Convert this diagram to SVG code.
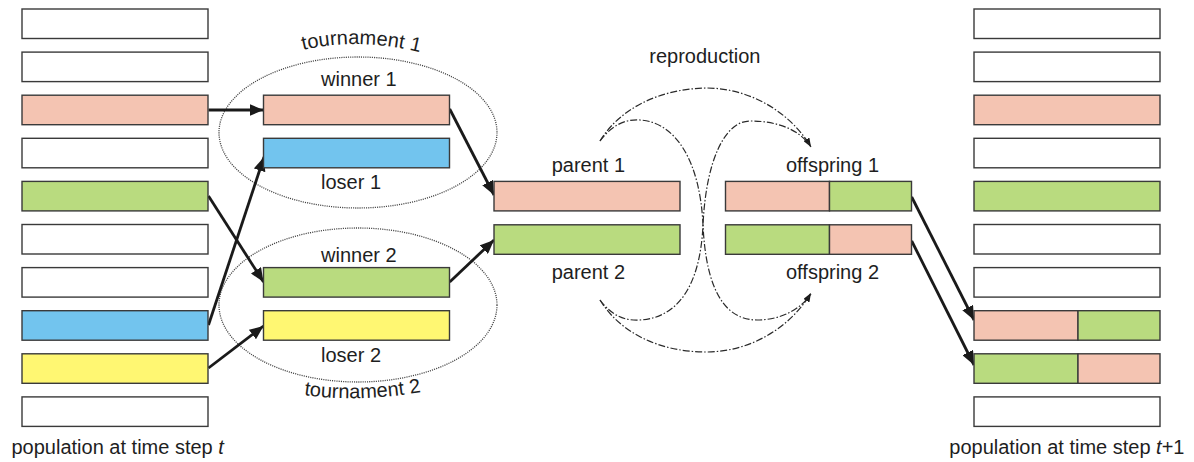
<svg xmlns="http://www.w3.org/2000/svg" width="1194" height="462" viewBox="0 0 1194 462">
  <style>
    .box { stroke: #3a3a3a; stroke-width: 1.4; }
    .w { fill: #ffffff; }
    .pk { fill: #f4c4b2; }
    .gr { fill: #b9db7f; }
    .bl { fill: #72c4ee; }
    .yl { fill: #fff772; }
    text { font-family: "Liberation Sans", Arial, sans-serif; font-size: 20px; fill: #1e1e1e; }
    .arrow { stroke: #1a1a1a; stroke-width: 2.8; fill: none; marker-end: url(#head); }
    .repro { stroke: #2a2a2a; stroke-width: 1.2; fill: none; stroke-dasharray: 7 2 1.5 2; }
    .tour { fill: none; stroke: #444; stroke-width: 1.3; stroke-dasharray: 1.1 1.1; }
  </style>
  <defs>
    <marker id="head" viewBox="0 0 14 12" refX="14" refY="6" markerWidth="14" markerHeight="12" markerUnits="userSpaceOnUse" orient="auto">
      <path d="M0,0 L14,6 L0,12 Z" fill="#1a1a1a"/>
    </marker>
    <marker id="small" viewBox="0 0 9 7" refX="9" refY="3.5" markerWidth="9" markerHeight="7" markerUnits="userSpaceOnUse" orient="auto">
      <path d="M0,0 L9,3.5 L0,7 Z" fill="#1a1a1a"/>
    </marker>
    <path id="arcTop" d="M303,50 Q362,36 430,55"/>
    <path id="arcBot" d="M304,395 Q360,403 428,391"/>
  </defs>

  <!-- tournament ellipses -->
  <g id="tournament1">
    <ellipse class="tour" cx="358" cy="132.5" rx="139" ry="75.5"/>
    <text><textPath href="#arcTop">tournament 1</textPath></text>
  </g>
  <g id="tournament2">
    <ellipse class="tour" cx="358" cy="305" rx="139" ry="77"/>
    <text><textPath href="#arcBot">tournament 2</textPath></text>
  </g>

  <!-- connectors -->
  <g id="connectors">
    <line class="arrow" x1="208.5" y1="110" x2="263.5" y2="110"/>
    <line class="arrow" x1="208.5" y1="196" x2="263.5" y2="282"/>
    <line class="arrow" x1="208.5" y1="325" x2="264" y2="157"/>
    <line class="arrow" x1="208.5" y1="368" x2="263.5" y2="326"/>
    <line class="arrow" x1="449.7" y1="109" x2="494" y2="195"/>
    <line class="arrow" x1="449.7" y1="282" x2="494" y2="240"/>
    <line class="arrow" x1="911.7" y1="197" x2="974" y2="320"/>
    <line class="arrow" x1="911.7" y1="241" x2="974" y2="365"/>

    <!-- reproduction: crossover paths -->
    <path class="repro" marker-end="url(#small)" d="M600,141 C620,108 660,89 706,88 C750,88 790,112 811,147"/>
    <path class="repro" marker-end="url(#small)" d="M600,300 C620,333 660,352 706,352 C750,352 790,328 811,293"/>
    <path class="repro" d="M600,141 C612,125 625,119 640,120 C675,122 700,160 703,225 C706,290 725,320 757,320 C780,320 800,310 811,294"/>
    <path class="repro" d="M600,300 C612,316 625,321 640,320 C675,318 700,290 703,225 C706,160 725,121 750,121 C778,121 800,130 811,147"/>
  </g>

  <!-- population at time step t -->
  <g id="population-t">
    <rect class="box w" x="22" y="9" width="186" height="29.5"/>
    <rect class="box w" x="22" y="52.1" width="186" height="29.5"/>
    <rect class="box pk" x="22" y="95.2" width="186" height="29.5"/>
    <rect class="box w" x="22" y="138.3" width="186" height="29.5"/>
    <rect class="box gr" x="22" y="181.4" width="186" height="29.5"/>
    <rect class="box w" x="22" y="224.5" width="186" height="29.5"/>
    <rect class="box w" x="22" y="267.6" width="186" height="29.5"/>
    <rect class="box bl" x="22" y="310.7" width="186" height="29.5"/>
    <rect class="box yl" x="22" y="353.8" width="186" height="29.5"/>
    <rect class="box w" x="22" y="396.9" width="186" height="29.5"/>
    <text x="11.5" y="454">population at time step <tspan font-style="italic">t</tspan></text>
  </g>

  <g id="winner1">
    <rect class="box pk" x="263.5" y="95.2" width="186" height="29.5"/>
    <text x="321" y="86">winner 1</text>
  </g>
  <g id="loser1">
    <rect class="box bl" x="263.5" y="138.3" width="186" height="29.5"/>
    <text x="321" y="189.3">loser 1</text>
  </g>
  <g id="winner2">
    <rect class="box gr" x="263.5" y="267.6" width="186" height="29.5"/>
    <text x="321" y="262">winner 2</text>
  </g>
  <g id="loser2">
    <rect class="box yl" x="263.5" y="310.7" width="186" height="29.5"/>
    <text x="321" y="361.7">loser 2</text>
  </g>

  <g id="parent1">
    <rect class="box pk" x="494" y="181.4" width="186" height="29.5"/>
    <text x="551.7" y="171.7">parent 1</text>
  </g>
  <g id="parent2">
    <rect class="box gr" x="494" y="224.8" width="186" height="29.5"/>
    <text x="551.7" y="279.3">parent 2</text>
  </g>

  <g id="reproduction">
    <text x="649.3" y="62.7">reproduction</text>
  </g>

  <g id="offspring1">
    <rect class="box pk" x="725.5" y="181.4" width="104" height="29.5"/>
    <rect class="box gr" x="829.5" y="181.4" width="82" height="29.5"/>
    <text x="786" y="171.7">offspring 1</text>
  </g>
  <g id="offspring2">
    <rect class="box gr" x="725.5" y="224.8" width="104" height="29.5"/>
    <rect class="box pk" x="829.5" y="224.8" width="82" height="29.5"/>
    <text x="786" y="279.3">offspring 2</text>
  </g>

  <!-- population at time step t+1 -->
  <g id="population-t1">
    <rect class="box w" x="974" y="9" width="186" height="29.5"/>
    <rect class="box w" x="974" y="52.1" width="186" height="29.5"/>
    <rect class="box pk" x="974" y="95.2" width="186" height="29.5"/>
    <rect class="box w" x="974" y="138.3" width="186" height="29.5"/>
    <rect class="box gr" x="974" y="181.4" width="186" height="29.5"/>
    <rect class="box w" x="974" y="224.5" width="186" height="29.5"/>
    <rect class="box w" x="974" y="267.6" width="186" height="29.5"/>
    <rect class="box pk" x="974" y="310.7" width="104" height="29.5"/>
    <rect class="box gr" x="1078" y="310.7" width="82" height="29.5"/>
    <rect class="box gr" x="974" y="353.8" width="104" height="29.5"/>
    <rect class="box pk" x="1078" y="353.8" width="82" height="29.5"/>
    <rect class="box w" x="974" y="396.9" width="186" height="29.5"/>
    <text x="949.3" y="454">population at time step <tspan font-style="italic">t</tspan>+1</text>
  </g>
</svg>
